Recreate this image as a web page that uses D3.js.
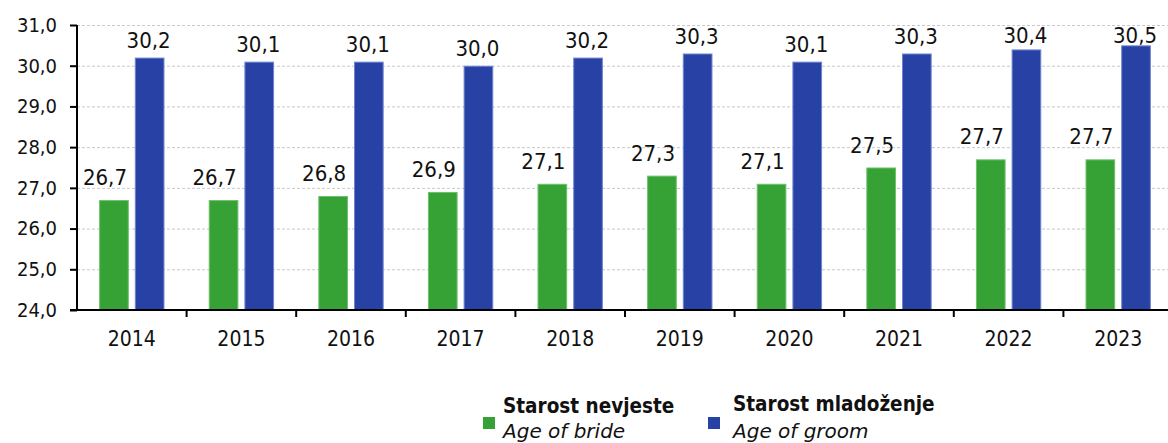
<!DOCTYPE html>
<html>
<head>
<meta charset="utf-8">
<script src="https://cdn.jsdelivr.net/npm/d3@7"></script>
<style>
  body { margin: 0; background: #fff; }
  svg { display: block; font-family: "DejaVu Sans Condensed", "DejaVu Sans", sans-serif; }
</style>
</head>
<body>
<svg width="1168" height="443"></svg>
<script>
const years = ["2014", "2015", "2016", "2017", "2018", "2019", "2020", "2021", "2022", "2023"];
const brideAge = [26.7, 26.7, 26.8, 26.9, 27.1, 27.3, 27.1, 27.5, 27.7, 27.7];
const groomAge = [30.2, 30.1, 30.1, 30.0, 30.2, 30.3, 30.1, 30.3, 30.4, 30.5];
const yTicks = [24, 25, 26, 27, 28, 29, 30, 31];
const seriesNames = ["bride", "groom"];
const legendItems = [
    { key: "bride", top: "Starost nevjeste", bottom: "Age of bride" },
    { key: "groom", top: "Starost mladoženje", bottom: "Age of groom" }
];

const colors = { bride: "#36a236", groom: "#2742a4" };
const strokes = { bride: "#6cc06c", groom: "#6f84d0" };
// label nudges per series (labels in the source sit a bit left/up for brides)
const labelDx = { bride: -9, groom: -1 };
const labelDy = { bride: -15, groom: -10 };

const svg = d3.select("svg");
const fmt = v => d3.format(".1f")(v).replace(".", ",");

const plotLeft = 77, plotRight = 1173, plotTop = 25, plotBottom = 310;

const x0 = d3.scaleBand().domain(years).range([plotLeft, plotRight]).padding(0);
const x1 = d3.scaleBand().domain(seriesNames)
    .range([0, x0.bandwidth()])
    .paddingInner(0.169)
    .paddingOuter(0.62);
const y = d3.scaleLinear().domain([24, 31]).range([plotBottom, plotTop]);

// grid
svg.append("g")
    .selectAll("line")
    .data(yTicks.filter(t => t > 24))
    .join("line")
    .attr("x1", plotLeft).attr("x2", 1168)
    .attr("y1", d => y(d) + 0.5).attr("y2", d => y(d) + 0.5)
    .attr("stroke", "#c8c8c8")
    .attr("stroke-width", 1)
    .attr("stroke-dasharray", "3 2");

const data = years.map((yr, i) => ({ year: yr, values: [
    { key: "bride", value: brideAge[i] },
    { key: "groom", value: groomAge[i] }
]}));

const groups = svg.append("g")
    .selectAll("g")
    .data(data)
    .join("g")
    .attr("transform", d => `translate(${x0(d.year)},0)`);

groups.selectAll("rect")
    .data(d => d.values)
    .join("rect")
    .attr("x", d => x1(d.key) + 0.5)
    .attr("y", d => y(d.value) + 0.5)
    .attr("width", x1.bandwidth() - 1)
    .attr("height", d => y(24) - y(d.value) - 0.5)
    .attr("fill", d => colors[d.key])
    .attr("stroke", d => strokes[d.key])
    .attr("stroke-width", 1);

groups.selectAll("text")
    .data(d => d.values)
    .join("text")
    .attr("x", d => x1(d.key) + x1.bandwidth() / 2 + labelDx[d.key])
    .attr("y", d => Math.max(y(d.value) + labelDy[d.key], 43))
    .attr("text-anchor", "middle")
    .attr("font-size", "22px")
    .attr("fill", "#111")
    .text(d => fmt(d.value));

// y axis
const yAxis = svg.append("g")
    .attr("transform", `translate(${plotLeft},0)`)
    .call(d3.axisLeft(y).tickValues(yTicks).tickFormat(fmt).tickSize(7).tickPadding(13));
yAxis.attr("font-family", null).attr("font-size", null);
yAxis.select(".domain").attr("stroke", "#000").attr("stroke-width", 2)
    .attr("d", `M0,${plotTop}V${plotBottom}`);
yAxis.selectAll(".tick line").attr("stroke", "#000").attr("stroke-width", 2);
yAxis.selectAll(".tick text").attr("font-size", "20px").attr("fill", "#111");

// x axis
const xAxis = svg.append("g")
    .attr("transform", `translate(0,${plotBottom})`);
xAxis.append("line")
    .attr("x1", plotLeft - 7).attr("x2", 1168)
    .attr("stroke", "#000").attr("stroke-width", 2);
xAxis.selectAll(".sep")
    .data(years.slice(1))
    .join("line")
    .attr("class", "sep")
    .attr("x1", d => x0(d)).attr("x2", d => x0(d))
    .attr("y1", 0).attr("y2", 7)
    .attr("stroke", "#000").attr("stroke-width", 2);
xAxis.selectAll(".lbl")
    .data(years)
    .join("text")
    .attr("class", "lbl")
    .attr("x", d => x0(d) + x0.bandwidth() / 2)
    .attr("y", 36)
    .attr("text-anchor", "middle")
    .attr("font-size", "21px")
    .attr("fill", "#111")
    .text(d => d);

// legend
const legendX = [483, 708];
const legend = svg.append("g");
legendItems.forEach((item, i) => {
    const g = legend.append("g").attr("transform", `translate(${legendX[i]},0)`);
    g.append("rect")
        .attr("x", 0).attr("y", 417)
        .attr("width", 12).attr("height", 12)
        .attr("fill", colors[item.key]);
    g.append("text")
        .attr("x", i === 0 ? 20 : 25)
        .attr("y", i === 0 ? 413 : 411)
        .attr("font-size", "20.5px")
        .attr("font-weight", "bold")
        .attr("fill", "#111")
        .text(item.top);
    g.append("text")
        .attr("x", i === 0 ? 20 : 25)
        .attr("y", 438)
        .attr("font-family", "DejaVu Sans, sans-serif")
        .attr("font-size", "20px")
        .attr("font-style", "italic")
        .attr("fill", "#111")
        .text(item.bottom);
});
</script>
</body>
</html>
